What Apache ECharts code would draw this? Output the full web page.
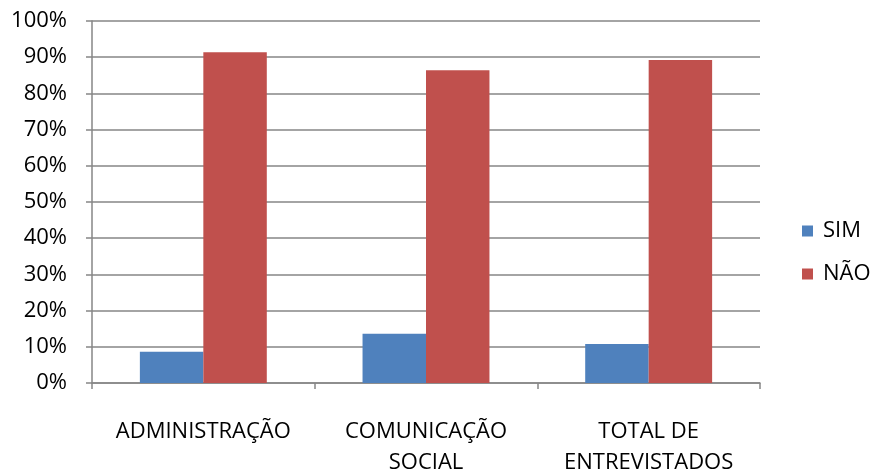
<!DOCTYPE html>
<html>
<head>
<meta charset="utf-8">
<script src="https://cdn.jsdelivr.net/npm/echarts@6/dist/echarts.min.js"></script>
<style>html,body{margin:0;padding:0;background:#fff}#c{width:874px;height:470px}</style>
</head>
<body>
<div id="c"></div>
<script>
var categories = ['ADMINISTRAÇÃO', 'COMUNICAÇÃO\nSOCIAL', 'TOTAL DE\nENTREVISTADOS'];
var simValues = [8.6, 13.6, 10.8];
var naoValues = [91.4, 86.4, 89.2];
var seriesNames = ['SIM', 'NÃO'];

var FONT = 'Open Sans';
var chart = echarts.init(document.getElementById('c'), null, {renderer: 'canvas'});
chart.setOption({
  animation: false,
  backgroundColor: '#ffffff',
  textStyle: {fontFamily: FONT},
  grid: {left: 92, right: 114, top: 21, bottom: 87, containLabel: false, outerBoundsMode: 'none'},
  legend: {
    orient: 'vertical', left: 797, top: 215,
    itemWidth: 11, itemHeight: 11, itemGap: 21,
    icon: 'rect',
    textStyle: {fontFamily: FONT, fontSize: 22, color: '#000', lineHeight: 22, padding: [0, 0, 0, 5]},
    data: seriesNames
  },
  xAxis: {
    type: 'category', data: categories,
    axisLine: {lineStyle: {color: '#868686', width: 1.5}},
    axisTick: {show: true, length: 6, lineStyle: {color: '#868686', width: 1.5}},
    axisLabel: {color: '#000', fontSize: 22, fontFamily: FONT, margin: 33, lineHeight: 31, interval: 0}
  },
  yAxis: {
    type: 'value', min: 0, max: 100, interval: 10,
    axisLine: {show: true, lineStyle: {color: '#868686', width: 1.5}},
    axisTick: {show: true, length: 6, lineStyle: {color: '#868686', width: 1.5}},
    splitLine: {lineStyle: {color: '#868686', width: 1.5}},
    axisLabel: {color: '#000', fontSize: 22, fontFamily: FONT, margin: 25, formatter: '{value}%'}
  },
  series: [
    {name: seriesNames[0], type: 'bar', data: simValues, barGap: '0%', barCategoryGap: '43%',
     itemStyle: {color: '#4F81BD'}},
    {name: seriesNames[1], type: 'bar', data: naoValues, barGap: '0%', barCategoryGap: '43%',
     itemStyle: {color: '#C0504D'}}
  ]
});
</script>
</body>
</html>
